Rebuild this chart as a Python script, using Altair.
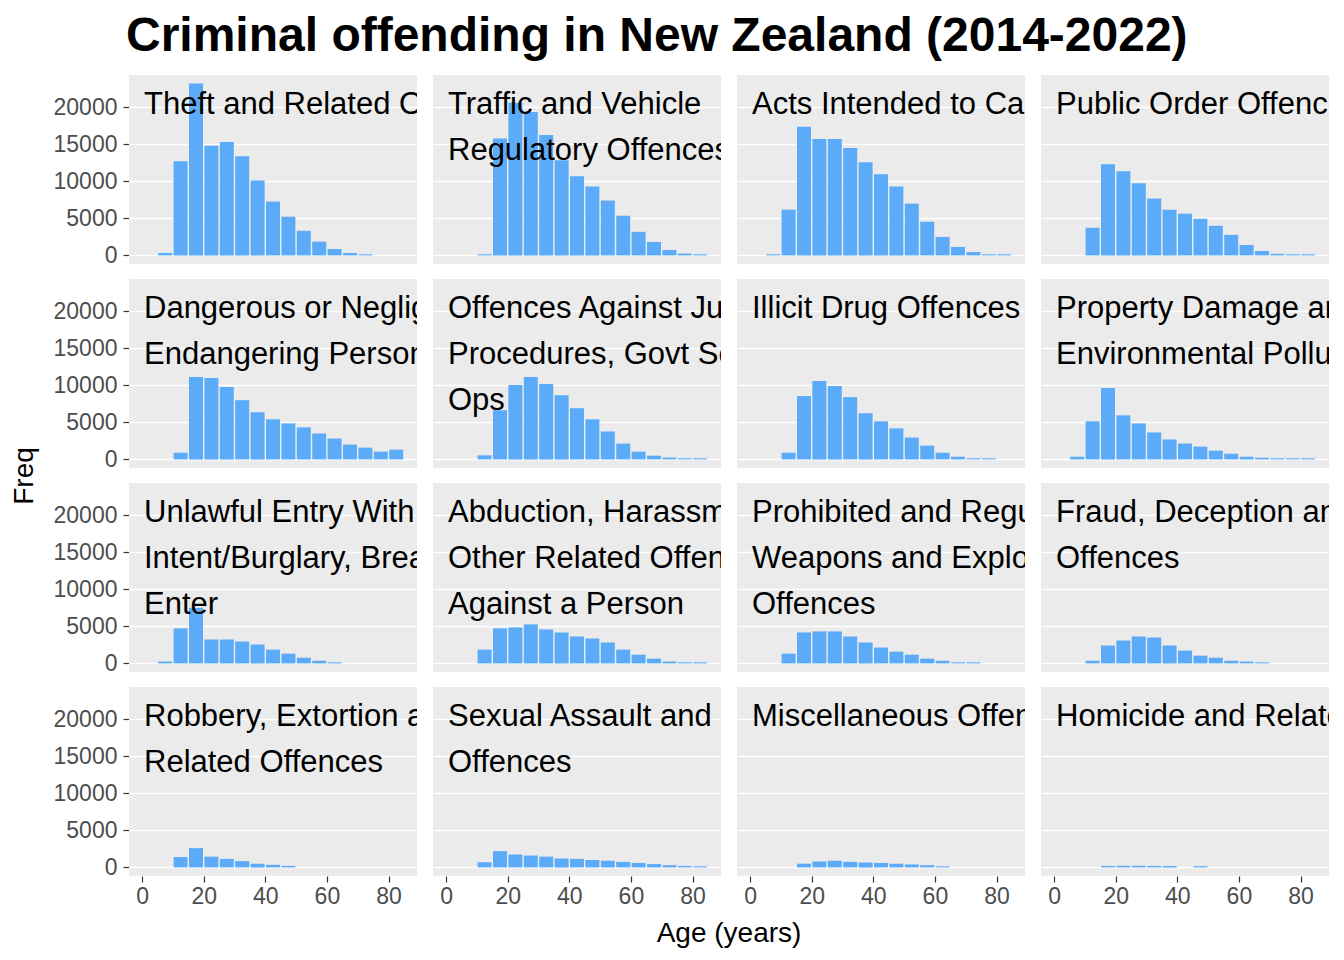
import altair as alt
import pandas as pd

FONT = "Liberation Sans, Arial, Helvetica, sans-serif"

# age bins (start of each 5-year bin)
bin_starts = [5, 10, 15, 20, 25, 30, 35, 40, 45, 50, 55, 60, 65, 70, 75, 80]

categories = [
    "Theft and Related Offences",
    "Traffic and Vehicle Regulatory Offences",
    "Acts Intended to Cause Injury",
    "Public Order Offences",
    "Dangerous or Negligent Acts Endangering Persons",
    "Offences Against Justice Procedures, Govt Sec and Govt Ops",
    "Illicit Drug Offences",
    "Property Damage and Environmental Pollution",
    "Unlawful Entry With Intent/Burglary, Break and Enter",
    "Abduction, Harassment and Other Related Offences Against a Person",
    "Prohibited and Regulated Weapons and Explosives Offences",
    "Fraud, Deception and Related Offences",
    "Robbery, Extortion and Related Offences",
    "Sexual Assault and Related Offences",
    "Miscellaneous Offences",
    "Homicide and Related Offences",
]

labels = [
    "Theft and Related Offences",
    "Traffic and Vehicle\nRegulatory Offences",
    "Acts Intended to Cause Injury",
    "Public Order Offences",
    "Dangerous or Negligent Acts\nEndangering Persons",
    "Offences Against Justice\nProcedures, Govt Sec and Govt\nOps",
    "Illicit Drug Offences",
    "Property Damage and\nEnvironmental Pollution",
    "Unlawful Entry With\nIntent/Burglary, Break and\nEnter",
    "Abduction, Harassment and\nOther Related Offences\nAgainst a Person",
    "Prohibited and Regulated\nWeapons and Explosives\nOffences",
    "Fraud, Deception and Related\nOffences",
    "Robbery, Extortion and\nRelated Offences",
    "Sexual Assault and Related\nOffences",
    "Miscellaneous Offences",
    "Homicide and Related Offences",
]

theft = [330, 12700, 23200, 14800, 15300, 13400, 10100, 7270, 5230, 3320, 1860, 860, 330, 150, 0, 0]
traffic = [0, 150, 15770, 20600, 19360, 16270, 12860, 10680, 9320, 7410, 5360, 3180, 1820, 730, 250, 150]
injury = [150, 6180, 17360, 15730, 15730, 14500, 12590, 10950, 9320, 7000, 4550, 2500, 1140, 450, 150, 150]
public_order = [0, 3730, 12320, 11360, 9730, 7680, 6180, 5640, 4950, 4000, 2770, 1410, 590, 220, 150, 150]
dangerous = [0, 910, 11140, 11000, 9770, 8000, 6360, 5410, 4860, 4320, 3500, 2820, 2000, 1590, 1050, 1320]
justice = [0, 550, 6640, 10050, 11140, 10180, 8680, 6910, 5410, 3770, 2140, 1050, 500, 250, 150, 150]
drugs = [0, 910, 8550, 10590, 9910, 8410, 6230, 5140, 4180, 2950, 1860, 910, 360, 150, 150, 0]
property_damage = [360, 5140, 9640, 5950, 4860, 3640, 2680, 2140, 1730, 1180, 770, 360, 230, 150, 150, 150]
burglary = [250, 4730, 7500, 3230, 3230, 2950, 2550, 1860, 1320, 770, 360, 150, 0, 0, 0, 0]
abduction = [0, 1860, 4730, 4860, 5270, 4590, 4180, 3640, 3360, 2820, 1860, 1180, 640, 250, 150, 150]
weapons = [0, 1320, 4180, 4320, 4320, 3640, 2820, 2140, 1590, 1180, 640, 360, 150, 150, 0, 0]
fraud = [0, 360, 2410, 3090, 3640, 3500, 2410, 1730, 1050, 770, 360, 250, 150, 0, 0, 0]
robbery = [0, 1400, 2600, 1450, 1150, 850, 500, 350, 200, 0, 0, 0, 0, 0, 0, 0]
sexual = [0, 700, 2200, 1750, 1600, 1450, 1200, 1150, 1000, 900, 750, 600, 450, 300, 200, 150]
misc = [0, 0, 500, 800, 900, 750, 650, 600, 500, 400, 300, 150, 0, 0, 0, 0]
homicide = [0, 0, 200, 220, 220, 200, 180, 0, 170, 0, 0, 0, 0, 0, 0, 0]

series = [theft, traffic, injury, public_order, dangerous, justice, drugs,
          property_damage, burglary, abduction, weapons, fraud, robbery,
          sexual, misc, homicide]

rows = []
for i, (cat, lab, vals) in enumerate(zip(categories, labels, series)):
    first = True
    for b, v in zip(bin_starts, vals):
        if v <= 0:
            continue
        rows.append({
            "category": cat, "label": lab, "r": i // 4, "c": i % 4,
            "age0": b, "age1": b + 5, "Freq": v, "first": first,
        })
        first = False
df = pd.DataFrame(rows)

x_scale = alt.Scale(domain=[-4.25, 89.25], nice=False, zero=False)
y_scale = alt.Scale(domain=[-1160, 24360], nice=False, zero=False)

bars = alt.Chart().mark_bar(
    fill="#5BABF9", strokeWidth=0, xOffset=0.7, x2Offset=-0.7
).encode(
    x=alt.X("age0:Q", scale=x_scale,
            axis=alt.Axis(title=None, values=[0, 20, 40, 60, 80], grid=False,
                          labelPadding=3)),
    x2="age1:Q",
    y=alt.Y("Freq:Q", scale=y_scale,
            axis=alt.Axis(title=None, values=[0, 5000, 10000, 15000, 20000],
                          grid=True, format="d", labelPadding=6)),
    y2=alt.datum(0),
)

text = alt.Chart().mark_text(
    align="left", baseline="alphabetic", fontSize=31, lineHeight=46,
    lineBreak="\n", color="black", font=FONT, clip=True
).encode(
    x=alt.value(15), y=alt.value(39), text="label:N"
).transform_filter("datum.first")

chart = alt.layer(bars, text, data=df).properties(
    width=288, height=189
).facet(
    row=alt.Row("r:O", header=alt.Header(labels=False, title="Freq",
                                         titleFontSize=28, titleFont=FONT,
                                         titleFontWeight="normal",
                                         titleColor="black", titlePadding=4)),
    column=alt.Column("c:O", header=alt.Header(labels=False, title="Age (years)",
                                               titleOrient="bottom",
                                               titleFontSize=28, titleFont=FONT,
                                               titleFontWeight="normal",
                                               titleColor="black", titlePadding=2)),
    spacing={"row": 15, "column": 16},
).properties(
    title=alt.TitleParams(
        "Criminal offending in New Zealand (2014-2022)",
        anchor="start", fontSize=48, fontWeight="bold", font=FONT,
        color="black", offset=14, dx=115
    ),
    padding={"left": 3, "top": 5, "right": 0, "bottom": 5},
).configure_view(
    fill="#EBEBEB", stroke=None
).configure_axis(
    domain=False, gridColor="white", gridWidth=1.7,
    labelFont=FONT, labelFontSize=23, labelColor="#4D4D4D",
    tickColor="#333333", tickSize=6, tickWidth=1.2,
).configure_text(font=FONT)

chart.save("out.html", embed_options={"renderer": "svg", "actions": False})
